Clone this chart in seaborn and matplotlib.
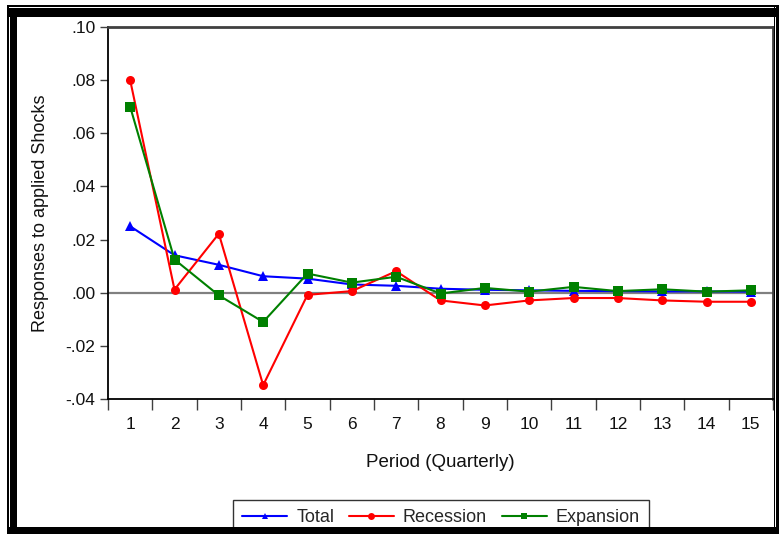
import matplotlib
matplotlib.use("Agg")
import matplotlib.pyplot as plt
from matplotlib.patches import Rectangle
from matplotlib.ticker import FixedLocator, FuncFormatter
import numpy as np
import pandas as pd
import seaborn as sns

# Impulse responses by quarter
periods = list(range(1, 16))
total = [0.0250, 0.0141, 0.0105, 0.0062, 0.0053, 0.0031, 0.0026, 0.0015,
         0.0011, 0.0009, 0.0007, 0.0006, 0.0005, 0.0005, 0.0004]
recession = [0.0800, 0.0012, 0.0222, -0.0348, -0.0008, 0.0006, 0.0081, -0.0029,
             -0.0048, -0.0029, -0.0020, -0.0020, -0.0029, -0.0034, -0.0034]
expansion = [0.0700, 0.0125, -0.0010, -0.0110, 0.0072, 0.0038, 0.0060, -0.0003,
             0.0018, 0.0004, 0.0022, 0.0006, 0.0013, 0.0004, 0.0009]
series_names = ["Total", "Recession", "Expansion"]
y_ticks = [-0.04, -0.02, 0.00, 0.02, 0.04, 0.06, 0.08, 0.10]

df = pd.DataFrame({
    "Period": periods * 3,
    "Response": total + recession + expansion,
    "Series": [n for n in series_names for _ in periods],
})

sns.set_theme(style="white")
plt.rcParams["font.family"] = ["Liberation Sans", "DejaVu Sans"]

W, H = 779, 534
fig = plt.figure(figsize=(W / 100, H / 100), dpi=100)
fig.patch.set_facecolor("white")

# axes box in pixel terms
left, right, top, bottom = 108, 773, 27, 399
ax = fig.add_axes([left / W, (H - bottom) / H, (right - left) / W, (bottom - top) / H])
ax.set_facecolor("white")

ax.axhline(0, color="#808080", lw=1.6, zorder=1)

palette = {"Total": "#0000ff", "Recession": "#ff0000", "Expansion": "#008000"}
markers = {"Total": "^", "Recession": "o", "Expansion": "s"}
sns.lineplot(data=df, x="Period", y="Response", hue="Series", style="Series",
             palette=palette, markers=markers, dashes=False, markersize=6.5,
             markeredgewidth=0, linewidth=1.5, ax=ax, legend=False, zorder=3)

ax.set_xlim(0.5, 15.5)
ax.set_ylim(-0.04, 0.10)

# x labels at periods, tick marks between them
ax.xaxis.set_major_locator(FixedLocator(periods))
ax.xaxis.set_minor_locator(FixedLocator(np.arange(0.5, 16.0, 1.0)))
ax.tick_params(axis="x", which="major", length=0, pad=13, labelsize=12.5, labelcolor="#111111")
ax.tick_params(axis="x", which="minor", length=8, width=1, color="#404040",
               direction="out", bottom=True)
ax.yaxis.set_major_locator(FixedLocator(y_ticks))


def fmt(v, _):
    s = f"{v:.2f}"
    return s.replace("0.", ".", 1)


ax.yaxis.set_major_formatter(FuncFormatter(fmt))
ax.tick_params(axis="y", which="major", length=6, width=1, color="#404040",
               direction="out", left=True, pad=3, labelsize=12.5, labelcolor="#111111")

for side in ["left", "bottom"]:
    ax.spines[side].set_color("black")
    ax.spines[side].set_linewidth(1.3)
for side in ["top", "right"]:
    ax.spines[side].set_color("#404040")
    ax.spines[side].set_linewidth(2.0)

ax.set_xlabel("Period (Quarterly)", fontsize=13.5, labelpad=16, color="#111111")
ax.set_ylabel("Responses to applied Shocks", fontsize=13, labelpad=12, color="#111111")

handles = [plt.Line2D([], [], color=palette[n], marker=markers[n], markersize=5,
                      markeredgewidth=0, lw=1.5) for n in series_names]
leg = fig.legend(handles, series_names, loc="upper center", ncol=3,
                 bbox_to_anchor=(441 / W, 1 - 500 / H), frameon=True, fontsize=13,
                 handlelength=2.5, handletextpad=0.5, columnspacing=0.8,
                 borderpad=0.5, fancybox=False, borderaxespad=0)
leg.get_frame().set_edgecolor("black")
leg.get_frame().set_linewidth(1.0)


def band(x0, y0, x1, y1, color="black"):
    # rectangle given in image pixel coords (origin top-left)
    fig.patches.append(Rectangle((x0 / W, 1 - y1 / H), (x1 - x0) / W, (y1 - y0) / H,
                                 transform=fig.transFigure, facecolor=color,
                                 edgecolor="none", zorder=10))


# double frame around the figure
band(7, 5, W, 6.5)
band(7, 5, 8.5, H)
band(7, 8, W, 16.5)
band(10, 8, 17, H)
band(773.5, 5, 774.5, H)
band(776, 5, W, H)
band(7, 527, W, H)

fig.savefig("out.png", dpi=100, facecolor="white")
